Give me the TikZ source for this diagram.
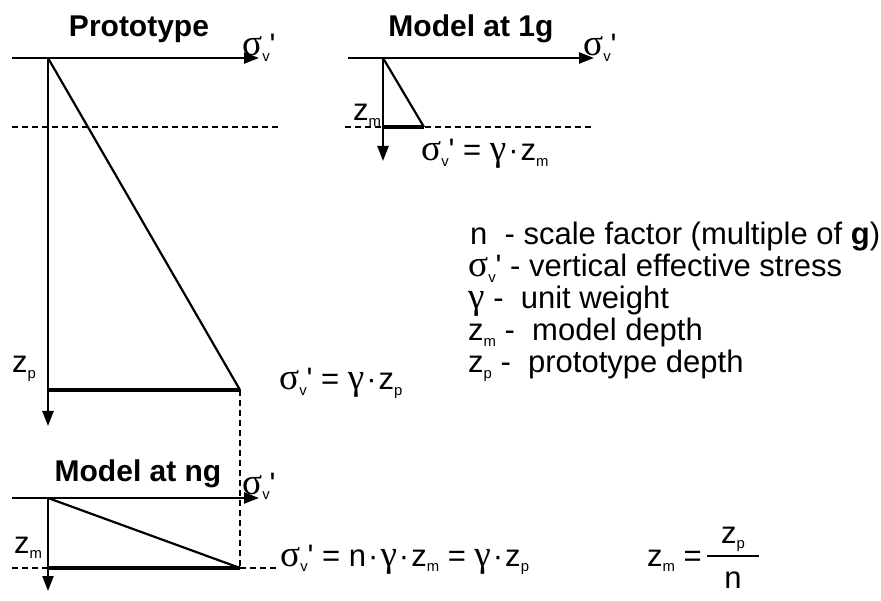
\documentclass[tikz,border=0pt]{standalone}
\usepackage{fontspec}
\usetikzlibrary{arrows.meta}
\newfontfamily\ar{Liberation Sans}
\newfontfamily\gr{Liberation Serif}[Scale=1.2]
\newcommand\lsub[1]{\raisebox{-0.18em}{\fontsize{0.48em}{0.5em}\selectfont #1}}
\newcommand\sigv{{\gr σ}\lsub{v}'}
\newcommand\zz[1]{z\lsub{#1}}
\newcommand\gam{{\gr γ}}
\newcommand\cdt{\kern2pt·\kern2pt}
\begin{document}
\begin{tikzpicture}[x=1pt,y=-1pt,
  axis/.style={line width=2.4pt,-{Triangle[length=15pt,width=11pt]}},
  diag/.style={line width=2.2pt},
  base/.style={line width=4pt},
  dsh/.style={line width=1.2pt,dash pattern=on 6pt off 4pt},
  ttl/.style={font=\ar\fontsize{30}{34}\selectfont\bfseries,inner sep=0pt},
  lbl/.style={font=\ar\fontsize{31}{36}\selectfont,inner sep=0pt,anchor=base west}]
\useasboundingbox (0,0) rectangle (881,601);
% ---------- Prototype ----------
\node[ttl,anchor=base] (tP) at (139,37) {Prototype};
\coordinate (P0) at (48,58);
\coordinate (Pl) at (12,58);
\coordinate (Pr) at (259,58);
\coordinate (Pd) at (48,426);
\coordinate (Pb) at (240,390);
\coordinate (Pbl) at (48,390);
\coordinate (Dl) at (12,127);
\coordinate (Dr) at (278,127);
\coordinate (Vb) at (240,568);
\draw[dsh] (Dl) -- (Dr);
\draw[axis] (Pl) -- (Pr);
\draw[axis] (P0) -- (Pd);
\draw[diag] (P0) -- (Pb);
\draw[base] (Pbl) -- (Pb);
\draw[dsh] (Pb) -- (Vb);
\node[lbl] (sP) at (242,56) {\sigv};
\node[lbl] (zP) at (12,373) {\zz{p}};
\node[lbl] (eP) at (279,390) {\sigv\ = \gam\cdt\zz{p}};
% ---------- Model at 1g ----------
\node[ttl,anchor=base] (t1) at (471,37) {Model at 1g};
\coordinate (M0) at (383,58);
\coordinate (Ml) at (348,58);
\coordinate (Mr) at (594,58);
\coordinate (Md) at (383,161);
\coordinate (Mb) at (424,127);
\coordinate (Mbl) at (383,127);
\coordinate (MDl) at (345,127);
\coordinate (MDr) at (592,127);
\draw[dsh] (MDl) -- (MDr);
\draw[axis] (Ml) -- (Mr);
\draw[axis] (M0) -- (Md);
\draw[diag] (M0) -- (Mb);
\draw[base] (Mbl) -- (Mb);
\node[lbl] (s1) at (583,56) {\sigv};
\node[lbl] (z1) at (353,121) {\zz{m}};
\node[lbl] (e1) at (421,161) {\sigv\ = \gam\cdt\zz{m}};
% ---------- Legend ----------
\node[lbl] (L1) at (470,245) {n\ \ - scale factor (multiple of \textbf{g})};
\node[lbl] (L2) at (468,277) {\sigv\ - vertical effective stress};
\node[lbl] (L3) at (468,309) {\gam\ -\ \ unit weight};
\node[lbl] (L4) at (468,341) {\zz{m} -\ \ model depth};
\node[lbl] (L5) at (468,373) {\zz{p} -\ \ prototype depth};
% ---------- Model at ng ----------
\node[ttl,anchor=base] (tN) at (138,481) {Model at ng};
\coordinate (N0) at (48,498);
\coordinate (Nl) at (12,498);
\coordinate (Nr) at (259,498);
\coordinate (Nd) at (48,591);
\coordinate (Nb) at (240,568);
\coordinate (Nbl) at (48,568);
\coordinate (NDl) at (12,568);
\coordinate (NDr) at (278,568);
\draw[dsh] (NDl) -- (Nbl);
\draw[dsh] (Nb) -- (NDr);
\draw[axis] (Nl) -- (Nr);
\draw[axis] (N0) -- (Nd);
\draw[diag] (N0) -- (Nb);
\draw[base] (Nbl) -- (Nb);
\node[lbl] (sN) at (242,494) {\sigv};
\node[lbl] (zN) at (14,553) {\zz{m}};
\node[lbl] (eN) at (280,566) {\sigv\ = n\cdt\gam\cdt\zz{m} = \gam\cdt\zz{p}};
\node[lbl] (fz) at (647,566) {\zz{m} =};
\coordinate (Fl) at (707,556);
\coordinate (Fr) at (759,556);
\draw[line width=2pt] (Fl) -- (Fr);
\node[lbl,anchor=base] (fn) at (733,543) {\zz{p}};
\node[lbl,anchor=base] (fd) at (733,588) {n};
\end{tikzpicture}
\end{document}
